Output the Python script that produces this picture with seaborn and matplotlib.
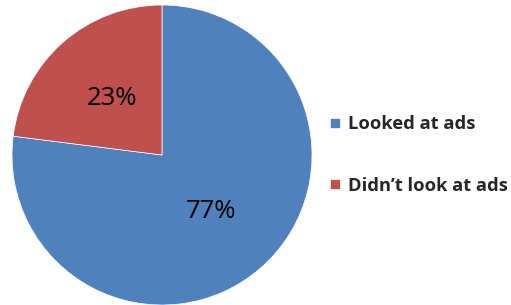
import seaborn as sns
import matplotlib.pyplot as plt
from matplotlib.lines import Line2D

labels = ["Looked at ads", "Didn\u2019t look at ads"]
shares = [77, 23]
colors = ["#4F81BD", "#C0504D"]

sns.set_style("white")
plt.rcParams["font.family"] = ["Open Sans", "DejaVu Sans"]

fig = plt.figure(figsize=(5.11, 3.05), dpi=100)
ax = fig.add_axes([12 / 511, 0, 300 / 511, 300 / 305])

wedges, texts, autotexts = ax.pie(
    shares,
    colors=colors,
    startangle=90,
    counterclock=False,
    autopct="%d%%",
    pctdistance=0.5,
    textprops={"fontsize": 18.5, "color": "black"},
    wedgeprops={"linewidth": 0.5, "edgecolor": "white"},
)
ax.set_xlim(-1.0, 1.0)
ax.set_ylim(-1.0, 1.0)
ax.set_aspect("equal")
ax.axis("off")

# Square swatches on the right, like an Excel legend
handles = [
    Line2D([0], [0], marker="s", color="w", markerfacecolor=c, markeredgecolor=c,
           markersize=6, linestyle="")
    for c in colors
]
fig.legend(
    handles,
    labels,
    loc="center left",
    bbox_to_anchor=(312 / 511, 1 - 155 / 305),
    frameon=False,
    handlelength=0.7,
    handletextpad=0.35,
    labelspacing=2.35,
    prop={"size": 13.2, "weight": "bold"},
)

fig.savefig("out.png", dpi=100)
plt.close()
